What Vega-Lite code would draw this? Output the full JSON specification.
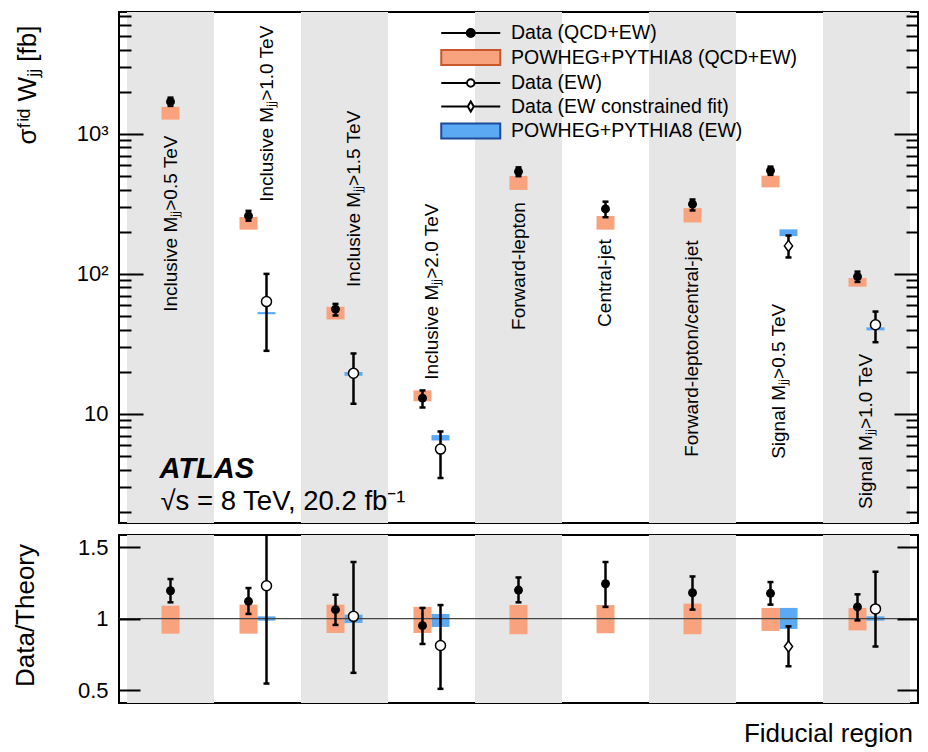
{
  "$schema": "https://vega.github.io/schema/vega-lite/v6.json",
  "padding": {"left": 10, "top": 11, "right": 5, "bottom": 5},
  "background": "white",
  "config": {
    "view": {"stroke": "black", "strokeWidth": 2},
    "axis": {"labelFont": "Liberation Sans", "titleFont": "Liberation Sans", "labelColor": "black", "titleColor": "black", "titleFontWeight": "normal", "grid": false, "domain": false},
    "text": {"font": "Liberation Sans", "color": "black"}
  },
  "datasets": {
    "regions": [
      {"region": 1, "label": "Inclusive Mⱼⱼ>0.5 TeV", "shade": 1, "ly": 53.6, "lslot": "C"},
      {"region": 2, "label": "Inclusive Mⱼⱼ>1.0 TeV", "shade": 0, "ly": 327, "lslot": "R"},
      {"region": 3, "label": "Inclusive Mⱼⱼ>1.5 TeV", "shade": 1, "ly": 80.7, "lslot": "R"},
      {"region": 4, "label": "Inclusive Mⱼⱼ>2.0 TeV", "shade": 0, "ly": 17.5, "lslot": "C"},
      {"region": 5, "label": "Forward-lepton", "shade": 1, "ly": 39.8, "lslot": "C"},
      {"region": 6, "label": "Central-jet", "shade": 0, "ly": 41.8, "lslot": "C"},
      {"region": 7, "label": "Forward-lepton/central-jet", "shade": 1, "ly": 4.93, "lslot": "C"},
      {"region": 8, "label": "Signal Mⱼⱼ>0.5 TeV", "shade": 0, "ly": 4.77, "lslot": "C"},
      {"region": 9, "label": "Signal Mⱼⱼ>1.0 TeV", "shade": 1, "ly": 2.09, "lslot": "C"}
    ],
    "qcd": [
      {"region": 1, "slot": "C", "v": 1700, "lo": 1585, "hi": 1817, "tlo": 1265, "thi": 1560, "r": 1.195, "rlo": 1.114, "rhi": 1.277, "rtlo": 0.895, "rthi": 1.091},
      {"region": 2, "slot": "L", "v": 260, "lo": 240, "hi": 282, "tlo": 207, "thi": 255, "r": 1.121, "rlo": 1.033, "rhi": 1.214, "rtlo": 0.895, "rthi": 1.098},
      {"region": 3, "slot": "L", "v": 56, "lo": 50.4, "hi": 61, "tlo": 47.2, "thi": 58.2, "r": 1.063, "rlo": 0.956, "rhi": 1.167, "rtlo": 0.9, "rthi": 1.098},
      {"region": 4, "slot": "L", "v": 12.95, "lo": 11.1, "hi": 14.7, "tlo": 12.3, "thi": 14.7, "r": 0.951, "rlo": 0.823, "rhi": 1.075, "rtlo": 0.9, "rthi": 1.082},
      {"region": 5, "slot": "C", "v": 538, "lo": 499, "hi": 577, "tlo": 398, "thi": 500, "r": 1.2, "rlo": 1.114, "rhi": 1.288, "rtlo": 0.891, "rthi": 1.095},
      {"region": 6, "slot": "C", "v": 291, "lo": 254, "hi": 328, "tlo": 207, "thi": 259, "r": 1.244, "rlo": 1.082, "rhi": 1.396, "rtlo": 0.898, "rthi": 1.095},
      {"region": 7, "slot": "C", "v": 315, "lo": 284, "hi": 340, "tlo": 233, "thi": 295, "r": 1.181, "rlo": 1.063, "rhi": 1.295, "rtlo": 0.891, "rthi": 1.105},
      {"region": 8, "slot": "L", "v": 547, "lo": 510, "hi": 584, "tlo": 415, "thi": 503, "r": 1.177, "rlo": 1.098, "rhi": 1.256, "rtlo": 0.914, "rthi": 1.075},
      {"region": 9, "slot": "L", "v": 95.7, "lo": 87.6, "hi": 103.8, "tlo": 81, "thi": 93.5, "r": 1.082, "rlo": 0.988, "rhi": 1.17, "rtlo": 0.918, "rthi": 1.075}
    ],
    "ew": [
      {"region": 2, "slot": "R", "kind": "open", "v": 63.4, "lo": 28.2, "hi": 100, "tlo": 51.5, "thi": 53.3, "r": 1.23, "rlo": 0.546, "rhi": 1.65, "rtlo": 0.986, "rthi": 1.016},
      {"region": 3, "slot": "R", "kind": "open", "v": 19.5, "lo": 11.8, "hi": 27, "tlo": 18.7, "thi": 19.9, "r": 1.016, "rlo": 0.621, "rhi": 1.396, "rtlo": 0.97, "rthi": 1.028},
      {"region": 4, "slot": "R", "kind": "open", "v": 5.6, "lo": 3.48, "hi": 7.48, "tlo": 6.45, "thi": 7.05, "r": 0.812, "rlo": 0.509, "rhi": 1.095, "rtlo": 0.942, "rthi": 1.033},
      {"region": 8, "slot": "R", "kind": "diamond", "v": 158.5, "lo": 131, "hi": 188, "tlo": 186, "thi": 208, "r": 0.805, "rlo": 0.667, "rhi": 0.946, "rtlo": 0.928, "rthi": 1.075},
      {"region": 9, "slot": "R", "kind": "open", "v": 43.3, "lo": 32.5, "hi": 53.8, "tlo": 39.5, "thi": 41.5, "r": 1.068, "rlo": 0.805, "rhi": 1.328, "rtlo": 0.986, "rthi": 1.016}
    ],
    "legend": [
      {"entry": "Data (QCD+EW)"},
      {"entry": "POWHEG+PYTHIA8 (QCD+EW)"},
      {"entry": "Data (EW)"},
      {"entry": "Data (EW constrained fit)"},
      {"entry": "POWHEG+PYTHIA8 (EW)"}
    ]
  },
  "resolve": {
    "scale": {"shape": "independent", "fill": "independent", "stroke": "independent"},
    "legend": {"shape": "independent", "fill": "independent", "stroke": "independent"}
  },
  "spacing": 10,
  "vconcat": [
    {
      "width": 799,
      "height": 511,
      "resolve": {"axis": {"y": "independent"}},
      "layer": [
        {
          "data": {"name": "regions"},
          "transform": [{"filter": "datum.shade == 1"}],
          "mark": {"type": "rect", "fill": "#e6e6e6"},
          "encoding": {
            "x": {"field": "region", "type": "ordinal", "scale": {"type": "band", "domain": [1,2,3,4,5,6,7,8,9], "paddingInner": 0, "paddingOuter": 0.092}, "axis": null}
          }
        },
        {
          "data": {"name": "regions"},
          "mark": {"type": "text", "angle": 270, "align": "left", "baseline": "middle", "fontSize": 19},
          "encoding": {
            "x": {"field": "region", "type": "ordinal", "scale": {"type": "band", "domain": [1,2,3,4,5,6,7,8,9], "paddingInner": 0, "paddingOuter": 0.092}, "axis": null},
            "xOffset": {"field": "lslot", "type": "nominal", "scale": {"type": "band", "domain": ["a","b","c","L","C","R","d","e","f"], "paddingInner": 0, "paddingOuter": 0.3333}},
            "y": {"field": "ly", "type": "quantitative", "scale": {"type": "log", "domain": [1.66, 7430], "nice": false},
                  "axis": {"orient": "right", "values": [10, 100, 1000], "tickSize": -24, "tickWidth": 2, "tickColor": "black", "labels": false, "title": null, "zindex": 1}},
            "text": {"field": "label"}
          }
        },
        {
          "data": {"name": "qcd"},
          "mark": {"type": "rule", "strokeWidth": 18, "strokeCap": "butt", "color": "#f8a27e"},
          "encoding": {
            "x": {"field": "region", "type": "ordinal", "scale": {"type": "band", "domain": [1,2,3,4,5,6,7,8,9], "paddingInner": 0, "paddingOuter": 0.092}, "axis": null},
            "xOffset": {"field": "slot", "type": "nominal", "scale": {"type": "band", "domain": ["a","b","c","L","C","R","d","e","f"], "paddingInner": 0, "paddingOuter": 0.3333}},
            "y": {"field": "tlo", "type": "quantitative", "scale": {"type": "log", "domain": [1.66, 7430], "nice": false}, "axis": null},
            "y2": {"field": "thi"}
          }
        },
        {
          "data": {"name": "ew"},
          "mark": {"type": "rule", "strokeWidth": 18, "strokeCap": "butt", "color": "#5aa9f2"},
          "encoding": {
            "x": {"field": "region", "type": "ordinal", "scale": {"type": "band", "domain": [1,2,3,4,5,6,7,8,9], "paddingInner": 0, "paddingOuter": 0.092}, "axis": null},
            "xOffset": {"field": "slot", "type": "nominal", "scale": {"type": "band", "domain": ["a","b","c","L","C","R","d","e","f"], "paddingInner": 0, "paddingOuter": 0.3333}},
            "y": {"field": "tlo", "type": "quantitative", "scale": {"type": "log", "domain": [1.66, 7430], "nice": false}, "axis": null},
            "y2": {"field": "thi"}
          }
        },
        {
          "data": {"name": "qcd"},
          "mark": {"type": "rule", "strokeWidth": 2.5, "color": "black"},
          "encoding": {
            "x": {"field": "region", "type": "ordinal", "scale": {"type": "band", "domain": [1,2,3,4,5,6,7,8,9], "paddingInner": 0, "paddingOuter": 0.092}, "axis": null},
            "xOffset": {"field": "slot", "type": "nominal", "scale": {"type": "band", "domain": ["a","b","c","L","C","R","d","e","f"], "paddingInner": 0, "paddingOuter": 0.3333}},
            "y": {"field": "lo", "type": "quantitative", "scale": {"type": "log", "domain": [1.66, 7430], "nice": false}, "axis": null},
            "y2": {"field": "hi"}
          }
        },
        {
          "data": {"name": "ew"},
          "mark": {"type": "rule", "strokeWidth": 2.5, "color": "black"},
          "encoding": {
            "x": {"field": "region", "type": "ordinal", "scale": {"type": "band", "domain": [1,2,3,4,5,6,7,8,9], "paddingInner": 0, "paddingOuter": 0.092}, "axis": null},
            "xOffset": {"field": "slot", "type": "nominal", "scale": {"type": "band", "domain": ["a","b","c","L","C","R","d","e","f"], "paddingInner": 0, "paddingOuter": 0.3333}},
            "y": {"field": "lo", "type": "quantitative", "scale": {"type": "log", "domain": [1.66, 7430], "nice": false}, "axis": null},
            "y2": {"field": "hi"}
          }
        },
        {
          "data": {"name": "qcd"},
          "transform": [{"fold": ["lo", "hi"], "as": ["end", "val"]}],
          "mark": {"type": "tick", "orient": "horizontal", "size": 6, "thickness": 2.5, "color": "black", "opacity": 1},
          "encoding": {
            "x": {"field": "region", "type": "ordinal", "scale": {"type": "band", "domain": [1,2,3,4,5,6,7,8,9], "paddingInner": 0, "paddingOuter": 0.092}, "axis": null},
            "xOffset": {"field": "slot", "type": "nominal", "scale": {"type": "band", "domain": ["a","b","c","L","C","R","d","e","f"], "paddingInner": 0, "paddingOuter": 0.3333}},
            "y": {"field": "val", "type": "quantitative", "scale": {"type": "log", "domain": [1.66, 7430], "nice": false}, "axis": null}
          }
        },
        {
          "data": {"name": "ew"},
          "transform": [{"fold": ["lo", "hi"], "as": ["end", "val"]}],
          "mark": {"type": "tick", "orient": "horizontal", "size": 6, "thickness": 2.5, "color": "black", "opacity": 1},
          "encoding": {
            "x": {"field": "region", "type": "ordinal", "scale": {"type": "band", "domain": [1,2,3,4,5,6,7,8,9], "paddingInner": 0, "paddingOuter": 0.092}, "axis": null},
            "xOffset": {"field": "slot", "type": "nominal", "scale": {"type": "band", "domain": ["a","b","c","L","C","R","d","e","f"], "paddingInner": 0, "paddingOuter": 0.3333}},
            "y": {"field": "val", "type": "quantitative", "scale": {"type": "log", "domain": [1.66, 7430], "nice": false}, "axis": null}
          }
        },
        {
          "data": {"name": "qcd"},
          "mark": {"type": "point", "shape": "circle", "size": 80, "filled": true, "color": "black", "opacity": 1},
          "encoding": {
            "x": {"field": "region", "type": "ordinal", "scale": {"type": "band", "domain": [1,2,3,4,5,6,7,8,9], "paddingInner": 0, "paddingOuter": 0.092}, "axis": null},
            "xOffset": {"field": "slot", "type": "nominal", "scale": {"type": "band", "domain": ["a","b","c","L","C","R","d","e","f"], "paddingInner": 0, "paddingOuter": 0.3333}},
            "y": {"field": "v", "type": "quantitative", "scale": {"type": "log", "domain": [1.66, 7430], "nice": false},
                  "axis": {"orient": "left", "values": [10, 100, 1000], "tickSize": -24, "tickWidth": 2, "tickColor": "black",
                           "labelExpr": "datum.value == 10 ? '10' : datum.value == 100 ? '10²' : '10³'",
                           "labelFontSize": 22, "labelPadding": 35,
                           "title": "σᶠⁱᵈ Wⱼⱼ [fb]", "titleFontSize": 26, "titleX": -92, "titleY": 13, "titleAlign": "right", "titleBaseline": "middle", "zindex": 1}}
          }
        },
        {
          "data": {"name": "ew"},
          "transform": [{"filter": "datum.kind == 'open'"}],
          "mark": {"type": "point", "shape": "circle", "size": 100, "filled": false, "fill": "white", "stroke": "black", "strokeWidth": 1.5, "opacity": 1},
          "encoding": {
            "x": {"field": "region", "type": "ordinal", "scale": {"type": "band", "domain": [1,2,3,4,5,6,7,8,9], "paddingInner": 0, "paddingOuter": 0.092}, "axis": null},
            "xOffset": {"field": "slot", "type": "nominal", "scale": {"type": "band", "domain": ["a","b","c","L","C","R","d","e","f"], "paddingInner": 0, "paddingOuter": 0.3333}},
            "y": {"field": "v", "type": "quantitative", "scale": {"type": "log", "domain": [1.66, 7430], "nice": false},
                  "axis": {"orient": "left", "values": [2,3,4,5,6,7,8,9,20,30,40,50,60,70,80,90,200,300,400,500,600,700,800,900,2000,3000,4000,5000,6000,7000], "tickSize": -12, "tickWidth": 2, "tickColor": "black", "labels": false, "title": null, "zindex": 1}}
          }
        },
        {
          "data": {"name": "ew"},
          "transform": [{"filter": "datum.kind == 'diamond'"}],
          "mark": {"type": "point", "shape": "M0,-1L0.75,0L0,1L-0.75,0Z", "size": 121, "filled": false, "fill": "white", "stroke": "black", "strokeWidth": 1.5, "opacity": 1},
          "encoding": {
            "x": {"field": "region", "type": "ordinal", "scale": {"type": "band", "domain": [1,2,3,4,5,6,7,8,9], "paddingInner": 0, "paddingOuter": 0.092}, "axis": null},
            "xOffset": {"field": "slot", "type": "nominal", "scale": {"type": "band", "domain": ["a","b","c","L","C","R","d","e","f"], "paddingInner": 0, "paddingOuter": 0.3333}},
            "y": {"field": "v", "type": "quantitative", "scale": {"type": "log", "domain": [1.66, 7430], "nice": false}, "axis": null}
          }
        },
        {
          "data": {"values": [{}]},
          "mark": {"type": "text", "text": "ATLAS", "fontSize": 29, "fontWeight": "bold", "fontStyle": "italic", "align": "left", "baseline": "alphabetic", "dx": -11},
          "encoding": {
            "x": {"datum": 1, "type": "ordinal", "scale": {"type": "band", "domain": [1,2,3,4,5,6,7,8,9], "paddingInner": 0, "paddingOuter": 0.092}, "axis": null},
            "y": {"datum": 3.49, "type": "quantitative", "scale": {"type": "log", "domain": [1.66, 7430], "nice": false},
                  "axis": {"orient": "right", "values": [2,3,4,5,6,7,8,9,20,30,40,50,60,70,80,90,200,300,400,500,600,700,800,900,2000,3000,4000,5000,6000,7000], "tickSize": -12, "tickWidth": 2, "tickColor": "black", "labels": false, "title": null, "zindex": 1}}
          }
        },
        {
          "data": {"values": [{}]},
          "mark": {"type": "text", "text": "√s = 8 TeV, 20.2 fb⁻¹", "fontSize": 27.5, "align": "left", "baseline": "alphabetic", "dx": -10},
          "encoding": {
            "x": {"datum": 1, "type": "ordinal", "scale": {"type": "band", "domain": [1,2,3,4,5,6,7,8,9], "paddingInner": 0, "paddingOuter": 0.092}, "axis": null},
            "y": {"datum": 2.06, "type": "quantitative", "scale": {"type": "log", "domain": [1.66, 7430], "nice": false}, "axis": null}
          }
        },
        {
          "data": {"name": "legend"},
          "transform": [{"filter": "false"}],
          "mark": {"type": "point", "opacity": 1},
          "encoding": {
            "shape": {"field": "entry", "type": "nominal",
              "scale": {"domain": ["Data (QCD+EW)", "POWHEG+PYTHIA8 (QCD+EW)", "Data (EW)", "Data (EW constrained fit)", "POWHEG+PYTHIA8 (EW)"],
                        "range": ["M-5.9,0L-0.8,0M0.8,0L5.9,0M-0.8,0A0.8,0.8,0,1,1,0.8,0A0.8,0.8,0,1,1,-0.8,0Z",
                                  "M-5.9,-1.5L5.9,-1.5L5.9,1.5L-5.9,1.5Z",
                                  "M-5.9,0L-0.75,0M0.75,0L5.9,0M-0.75,0A0.75,0.75,0,1,1,0.75,0A0.75,0.75,0,1,1,-0.75,0Z",
                                  "M-5.9,0L-0.6,0M0.6,0L5.9,0M-0.6,0L0,-1L0.6,0L0,1Z",
                                  "M-5.9,-1.5L5.9,-1.5L5.9,1.5L-5.9,1.5Z"]},
              "legend": {"orient": "none", "legendX": 342, "legendY": 11.25, "title": null, "symbolSize": 100, "symbolStrokeWidth": 2, "labelFontSize": 19.5, "labelFont": "Liberation Sans", "labelColor": "black", "labelOffset": 30.5, "rowPadding": 2.5, "padding": 0, "labelLimit": 600, "symbolOpacity": 1}},
            "fill": {"field": "entry", "type": "nominal",
              "scale": {"domain": ["Data (QCD+EW)", "POWHEG+PYTHIA8 (QCD+EW)", "Data (EW)", "Data (EW constrained fit)", "POWHEG+PYTHIA8 (EW)"],
                        "range": ["black", "#f8a27e", "white", "white", "#5aa9f2"]},
              "legend": {"orient": "none", "legendX": 342, "legendY": 11.25, "title": null, "symbolSize": 100, "symbolStrokeWidth": 2, "labelFontSize": 19.5, "labelFont": "Liberation Sans", "labelColor": "black", "labelOffset": 30.5, "rowPadding": 2.5, "padding": 0, "labelLimit": 600, "symbolOpacity": 1}},
            "stroke": {"field": "entry", "type": "nominal",
              "scale": {"domain": ["Data (QCD+EW)", "POWHEG+PYTHIA8 (QCD+EW)", "Data (EW)", "Data (EW constrained fit)", "POWHEG+PYTHIA8 (EW)"],
                        "range": ["black", "#c8582c", "black", "black", "#1d4a9a"]},
              "legend": {"orient": "none", "legendX": 342, "legendY": 11.25, "title": null, "symbolSize": 100, "symbolStrokeWidth": 2, "labelFontSize": 19.5, "labelFont": "Liberation Sans", "labelColor": "black", "labelOffset": 30.5, "rowPadding": 2.5, "padding": 0, "labelLimit": 600, "symbolOpacity": 1}}
          }
        }
      ]
    },
    {
      "width": 799,
      "height": 168,
      "title": {"text": "Fiducial region", "orient": "bottom", "anchor": "end", "frame": "group", "font": "Liberation Sans", "fontSize": 26, "fontWeight": "normal", "color": "black", "offset": 18, "baseline": "top", "dx": -5},
      "resolve": {"axis": {"y": "independent"}},
      "layer": [
        {
          "data": {"name": "regions"},
          "transform": [{"filter": "datum.shade == 1"}],
          "mark": {"type": "rect", "fill": "#e6e6e6"},
          "encoding": {
            "x": {"field": "region", "type": "ordinal", "scale": {"type": "band", "domain": [1,2,3,4,5,6,7,8,9], "paddingInner": 0, "paddingOuter": 0.092}, "axis": null}
          }
        },
        {
          "data": {"name": "qcd"},
          "mark": {"type": "rule", "strokeWidth": 18, "strokeCap": "butt", "color": "#f8a27e"},
          "encoding": {
            "x": {"field": "region", "type": "ordinal", "scale": {"type": "band", "domain": [1,2,3,4,5,6,7,8,9], "paddingInner": 0, "paddingOuter": 0.092}, "axis": null},
            "xOffset": {"field": "slot", "type": "nominal", "scale": {"type": "band", "domain": ["a","b","c","L","C","R","d","e","f"], "paddingInner": 0, "paddingOuter": 0.3333}},
            "y": {"field": "rtlo", "type": "quantitative", "scale": {"type": "linear", "domain": [0.41, 1.585], "nice": false, "zero": false}, "axis": null},
            "y2": {"field": "rthi"}
          }
        },
        {
          "data": {"name": "ew"},
          "mark": {"type": "rule", "strokeWidth": 18, "strokeCap": "butt", "color": "#5aa9f2"},
          "encoding": {
            "x": {"field": "region", "type": "ordinal", "scale": {"type": "band", "domain": [1,2,3,4,5,6,7,8,9], "paddingInner": 0, "paddingOuter": 0.092}, "axis": null},
            "xOffset": {"field": "slot", "type": "nominal", "scale": {"type": "band", "domain": ["a","b","c","L","C","R","d","e","f"], "paddingInner": 0, "paddingOuter": 0.3333}},
            "y": {"field": "rtlo", "type": "quantitative", "scale": {"type": "linear", "domain": [0.41, 1.585], "nice": false, "zero": false}, "axis": null},
            "y2": {"field": "rthi"}
          }
        },
        {
          "data": {"values": [{}]},
          "mark": {"type": "rule", "color": "#444444", "strokeWidth": 1.3},
          "encoding": {
            "y": {"datum": 1, "type": "quantitative", "scale": {"type": "linear", "domain": [0.41, 1.585], "nice": false, "zero": false},
                  "axis": {"orient": "right", "values": [0.5, 1, 1.5], "tickSize": -21, "tickWidth": 2, "tickColor": "black", "labels": false, "title": null, "zindex": 1}}
          }
        },
        {
          "data": {"name": "qcd"},
          "mark": {"type": "rule", "strokeWidth": 2.5, "color": "black"},
          "encoding": {
            "x": {"field": "region", "type": "ordinal", "scale": {"type": "band", "domain": [1,2,3,4,5,6,7,8,9], "paddingInner": 0, "paddingOuter": 0.092}, "axis": null},
            "xOffset": {"field": "slot", "type": "nominal", "scale": {"type": "band", "domain": ["a","b","c","L","C","R","d","e","f"], "paddingInner": 0, "paddingOuter": 0.3333}},
            "y": {"field": "rlo", "type": "quantitative", "scale": {"type": "linear", "domain": [0.41, 1.585], "nice": false, "zero": false}, "axis": null},
            "y2": {"field": "rhi"}
          }
        },
        {
          "data": {"name": "ew"},
          "mark": {"type": "rule", "strokeWidth": 2.5, "color": "black", "clip": true},
          "encoding": {
            "x": {"field": "region", "type": "ordinal", "scale": {"type": "band", "domain": [1,2,3,4,5,6,7,8,9], "paddingInner": 0, "paddingOuter": 0.092}, "axis": null},
            "xOffset": {"field": "slot", "type": "nominal", "scale": {"type": "band", "domain": ["a","b","c","L","C","R","d","e","f"], "paddingInner": 0, "paddingOuter": 0.3333}},
            "y": {"field": "rlo", "type": "quantitative", "scale": {"type": "linear", "domain": [0.41, 1.585], "nice": false, "zero": false}, "axis": null},
            "y2": {"field": "rhi"}
          }
        },
        {
          "data": {"name": "qcd"},
          "transform": [{"fold": ["rlo", "rhi"], "as": ["end", "val"]}],
          "mark": {"type": "tick", "orient": "horizontal", "size": 6, "thickness": 2.5, "color": "black", "opacity": 1},
          "encoding": {
            "x": {"field": "region", "type": "ordinal", "scale": {"type": "band", "domain": [1,2,3,4,5,6,7,8,9], "paddingInner": 0, "paddingOuter": 0.092}, "axis": null},
            "xOffset": {"field": "slot", "type": "nominal", "scale": {"type": "band", "domain": ["a","b","c","L","C","R","d","e","f"], "paddingInner": 0, "paddingOuter": 0.3333}},
            "y": {"field": "val", "type": "quantitative", "scale": {"type": "linear", "domain": [0.41, 1.585], "nice": false, "zero": false}, "axis": null}
          }
        },
        {
          "data": {"name": "ew"},
          "transform": [{"fold": ["rlo", "rhi"], "as": ["end", "val"]}],
          "mark": {"type": "tick", "orient": "horizontal", "size": 6, "thickness": 2.5, "color": "black", "opacity": 1, "clip": true},
          "encoding": {
            "x": {"field": "region", "type": "ordinal", "scale": {"type": "band", "domain": [1,2,3,4,5,6,7,8,9], "paddingInner": 0, "paddingOuter": 0.092}, "axis": null},
            "xOffset": {"field": "slot", "type": "nominal", "scale": {"type": "band", "domain": ["a","b","c","L","C","R","d","e","f"], "paddingInner": 0, "paddingOuter": 0.3333}},
            "y": {"field": "val", "type": "quantitative", "scale": {"type": "linear", "domain": [0.41, 1.585], "nice": false, "zero": false}, "axis": null}
          }
        },
        {
          "data": {"name": "qcd"},
          "mark": {"type": "point", "shape": "circle", "size": 80, "filled": true, "color": "black", "opacity": 1},
          "encoding": {
            "x": {"field": "region", "type": "ordinal", "scale": {"type": "band", "domain": [1,2,3,4,5,6,7,8,9], "paddingInner": 0, "paddingOuter": 0.092}, "axis": null},
            "xOffset": {"field": "slot", "type": "nominal", "scale": {"type": "band", "domain": ["a","b","c","L","C","R","d","e","f"], "paddingInner": 0, "paddingOuter": 0.3333}},
            "y": {"field": "r", "type": "quantitative", "scale": {"type": "linear", "domain": [0.41, 1.585], "nice": false, "zero": false},
                  "axis": {"orient": "left", "values": [0.5, 1, 1.5], "format": "~g", "tickSize": -21, "tickWidth": 2, "tickColor": "black", "labelFontSize": 22, "labelPadding": 32,
                           "title": "Data/Theory", "titleFontSize": 26, "titleX": -94, "titleY": 80, "titleAlign": "center", "titleBaseline": "middle", "zindex": 1}}
          }
        },
        {
          "data": {"name": "ew"},
          "transform": [{"filter": "datum.kind == 'open'"}],
          "mark": {"type": "point", "shape": "circle", "size": 100, "filled": false, "fill": "white", "stroke": "black", "strokeWidth": 1.5, "opacity": 1},
          "encoding": {
            "x": {"field": "region", "type": "ordinal", "scale": {"type": "band", "domain": [1,2,3,4,5,6,7,8,9], "paddingInner": 0, "paddingOuter": 0.092}, "axis": null},
            "xOffset": {"field": "slot", "type": "nominal", "scale": {"type": "band", "domain": ["a","b","c","L","C","R","d","e","f"], "paddingInner": 0, "paddingOuter": 0.3333}},
            "y": {"field": "r", "type": "quantitative", "scale": {"type": "linear", "domain": [0.41, 1.585], "nice": false, "zero": false}, "axis": null}
          }
        },
        {
          "data": {"name": "ew"},
          "transform": [{"filter": "datum.kind == 'diamond'"}],
          "mark": {"type": "point", "shape": "M0,-1L0.75,0L0,1L-0.75,0Z", "size": 121, "filled": false, "fill": "white", "stroke": "black", "strokeWidth": 1.5, "opacity": 1},
          "encoding": {
            "x": {"field": "region", "type": "ordinal", "scale": {"type": "band", "domain": [1,2,3,4,5,6,7,8,9], "paddingInner": 0, "paddingOuter": 0.092}, "axis": null},
            "xOffset": {"field": "slot", "type": "nominal", "scale": {"type": "band", "domain": ["a","b","c","L","C","R","d","e","f"], "paddingInner": 0, "paddingOuter": 0.3333}},
            "y": {"field": "r", "type": "quantitative", "scale": {"type": "linear", "domain": [0.41, 1.585], "nice": false, "zero": false}, "axis": null}
          }
        }
      ]
    }
  ]
}
